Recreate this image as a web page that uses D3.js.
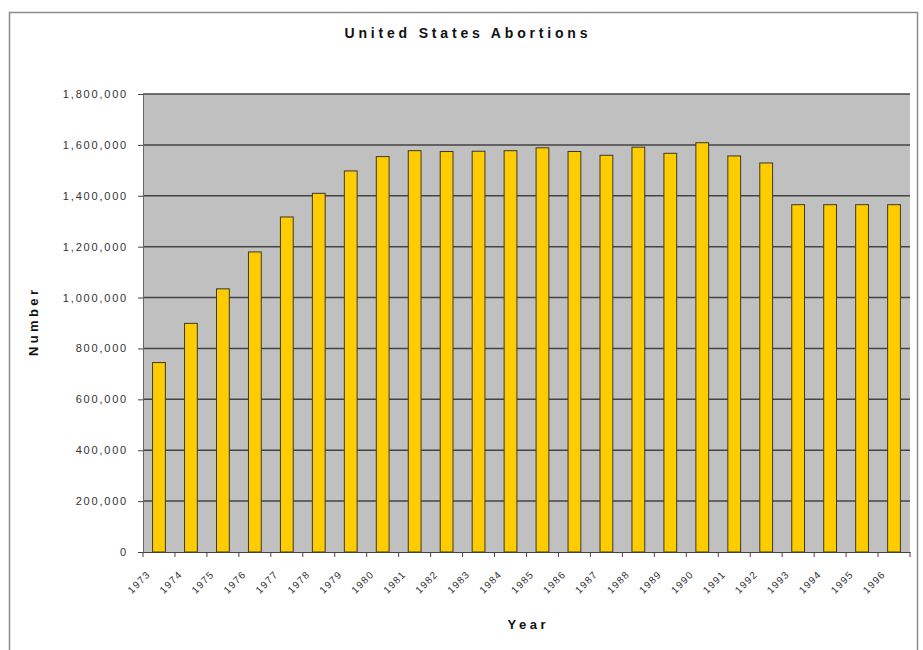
<!DOCTYPE html>
<html lang="en">
  <head>
    <meta charset="UTF-8" />
    <title>United States Abortions</title>
    <script src="https://d3js.org/d3.v7.min.js"></script>
    <style>
      body {
        margin: 0;
        background: #fff;
        font-family: Arial, "Liberation Sans", sans-serif;
      }
      .grid line {
        stroke: #444;
        stroke-width: 1.5px;
      }
      .bar {
        fill: #ffcc00;
        stroke: #3a3a2a;
        stroke-width: 1px;
      }
      .tick-label {
        fill: #333;
        font-size: 11px;
        letter-spacing: 1.8px;
      }
      .axis-title {
        fill: #111;
        font-size: 13px;
        font-weight: bold;
      }
    </style>
  </head>
  <body>
    <svg id="chart" width="923" height="650"></svg>

    <script>
      const years = [
        "1973", "1974", "1975", "1976", "1977", "1978", "1979", "1980",
        "1981", "1982", "1983", "1984", "1985", "1986", "1987", "1988",
        "1989", "1990", "1991", "1992", "1993", "1994", "1995", "1996",
      ];
      const abortions = [
        744600, 898600, 1034200, 1179300, 1316700, 1409600, 1497700, 1553900,
        1577300, 1573900, 1575000, 1577200, 1588600, 1574000, 1559100, 1591000,
        1566900, 1608600, 1556500, 1528900, 1365000, 1365000, 1365000, 1365000,
      ];
      const yTicks = [0, 200000, 400000, 600000, 800000, 1000000, 1200000, 1400000, 1600000, 1800000];

      const data = years.map((y, i) => ({ year: y, value: abortions[i] }));

      const svg = d3.select("#chart");
      const plot = { left: 143, right: 910, top: 94, bottom: 552 };

      // outer chart frame
      svg
        .append("rect")
        .attr("x", 9.5)
        .attr("y", 12.5)
        .attr("width", 908)
        .attr("height", 660)
        .attr("fill", "none")
        .attr("stroke", "#8c8c8c")
        .attr("stroke-width", 1.5);

      const x = d3.scaleBand().domain(years).range([plot.left, plot.right]).padding(0);
      const y = d3.scaleLinear().domain([0, 1800000]).range([plot.bottom, plot.top]);
      const barW = x.bandwidth() * 0.4;

      // plot background
      svg
        .append("rect")
        .attr("x", plot.left)
        .attr("y", plot.top)
        .attr("width", plot.right - plot.left)
        .attr("height", plot.bottom - plot.top)
        .attr("fill", "#c0c0c0");

      // gridlines
      svg
        .append("g")
        .attr("class", "grid")
        .selectAll("line")
        .data(yTicks.filter((t) => t > 0))
        .enter()
        .append("line")
        .attr("x1", plot.left)
        .attr("x2", plot.right)
        .attr("y1", (d) => y(d))
        .attr("y2", (d) => y(d));

      // bars
      svg
        .selectAll(".bar")
        .data(data)
        .enter()
        .append("rect")
        .attr("class", "bar")
        .attr("x", (d) => x(d.year) + (x.bandwidth() - barW) / 2)
        .attr("y", (d) => y(d.value))
        .attr("width", barW)
        .attr("height", (d) => y(0) - y(d.value));

      // y axis
      const yAxis = svg
        .append("g")
        .attr("transform", `translate(${plot.left},0)`)
        .call(
          d3
            .axisLeft(y)
            .tickValues(yTicks)
            .tickSize(5)
            .tickPadding(10)
            .tickFormat(d3.format(","))
        );
      yAxis.select(".domain").attr("stroke", "#666");
      yAxis.selectAll(".tick line").attr("stroke", "#444");
      yAxis
        .selectAll(".tick text")
        .attr("class", "tick-label")
        .attr("font-family", null)
        .attr("font-size", null)
        .attr("fill", null);

      // x axis
      const xAxis = svg
        .append("g")
        .attr("transform", `translate(0,${plot.bottom})`)
        .call(d3.axisBottom(x).tickSize(0).tickSizeOuter(0));
      xAxis.select(".domain").attr("stroke", "#444").attr("stroke-width", 1.2);
      xAxis
        .selectAll(".tick text")
        .attr("class", "tick-label")
        .attr("font-family", null)
        .attr("font-size", null)
        .attr("fill", null)
        .style("font-size", "10px")
        .style("letter-spacing", "1.2px")
        .attr("text-anchor", "end")
        .attr("dy", null)
        .attr("y", 0)
        .attr("transform", "translate(-8,23) rotate(-45)");

      // category boundary ticks
      svg
        .append("g")
        .selectAll("line")
        .data(years.concat(["end"]))
        .enter()
        .append("line")
        .attr("x1", (d) => (d === "end" ? plot.right : x(d)))
        .attr("x2", (d) => (d === "end" ? plot.right : x(d)))
        .attr("y1", plot.bottom)
        .attr("y2", plot.bottom + 5)
        .attr("stroke", "#444");

      // titles
      svg
        .append("text")
        .attr("class", "axis-title")
        .attr("x", 466)
        .attr("y", 38)
        .attr("text-anchor", "middle")
        .attr("textLength", 243)
        .attr("lengthAdjust", "spacing")
        .style("font-size", "14px")
        .text("United States Abortions");

      svg
        .append("text")
        .attr("class", "axis-title")
        .attr("x", (plot.left + plot.right) / 2)
        .attr("y", 629)
        .attr("text-anchor", "middle")
        .attr("textLength", 38)
        .attr("lengthAdjust", "spacing")
        .text("Year");

      svg
        .append("text")
        .attr("class", "axis-title")
        .attr("transform", `translate(38,${(plot.top + plot.bottom) / 2}) rotate(-90)`)
        .attr("text-anchor", "middle")
        .attr("textLength", 66)
        .attr("lengthAdjust", "spacing")
        .text("Number");
    </script>
  </body>
</html>
